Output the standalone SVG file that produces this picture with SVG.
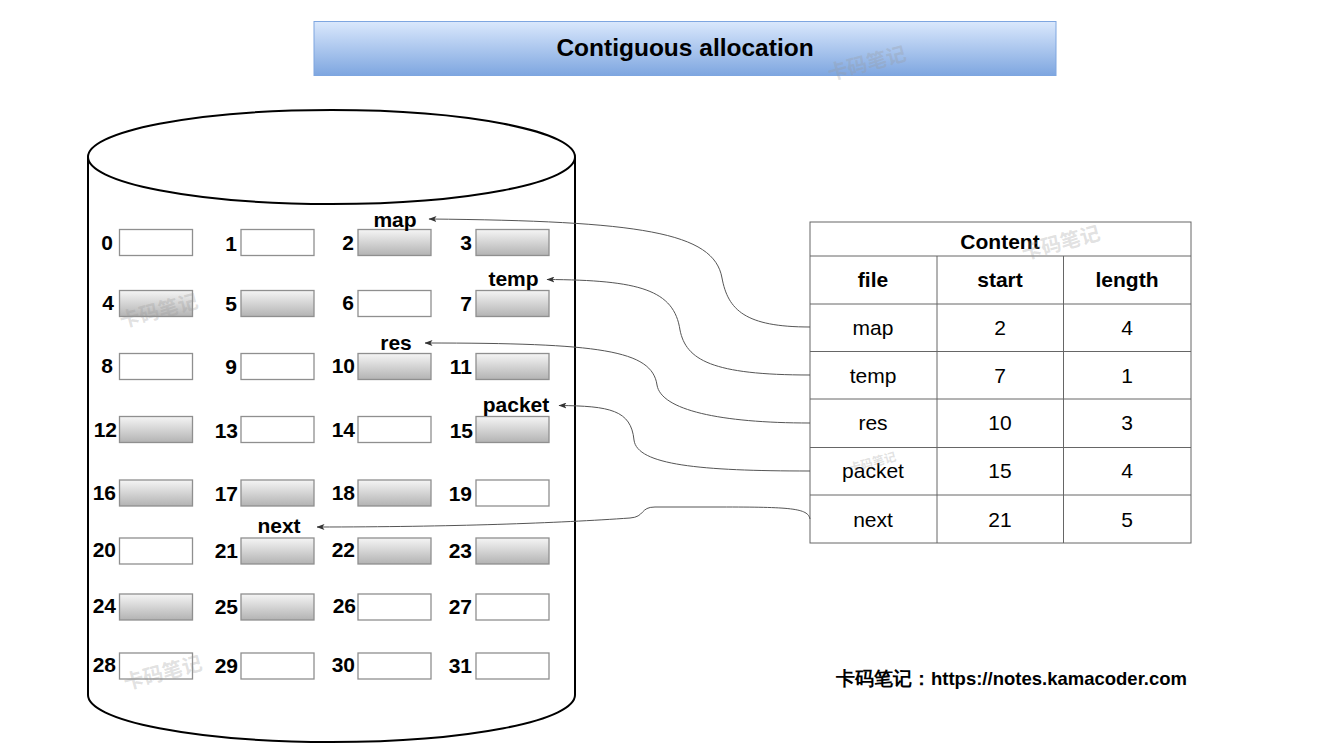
<svg xmlns="http://www.w3.org/2000/svg" width="1318" height="748" viewBox="0 0 1318 748">
<defs>
<linearGradient id="gTitle" x1="0" y1="0" x2="0" y2="1"><stop offset="0" stop-color="#dae8fc"/><stop offset="1" stop-color="#7ea6e0"/></linearGradient>
<linearGradient id="gGray" x1="0" y1="0" x2="0" y2="1"><stop offset="0" stop-color="#f5f5f5"/><stop offset="1" stop-color="#b3b3b3"/></linearGradient>
<marker id="arr" viewBox="0 0 8 6" refX="7.5" refY="3" markerWidth="8" markerHeight="6" markerUnits="userSpaceOnUse" orient="auto"><path d="M0,0 L8,3 L0,6 L2,3 z" fill="#333"/></marker>
</defs>
<style>
text{font-family:"Liberation Sans",Arial,sans-serif;fill:#000}
.num{font-size:21px;font-weight:bold;text-anchor:end}
.lbl{font-size:21px;font-weight:bold;text-anchor:middle}
.th{font-size:21px;font-weight:bold;text-anchor:middle}
.td{font-size:21px;text-anchor:middle}
.blk{stroke:#8f8f8f;stroke-width:1.3}
.w{fill:#fff}
.g{fill:url(#gGray)}
.tl{stroke:#666;stroke-width:1;fill:none}
.con{fill:none;stroke:#555;stroke-width:1;marker-end:url(#arr)}
.wm{font-family:"Noto Sans CJK SC","Liberation Sans",sans-serif;font-size:20px;font-weight:bold;fill:#999;fill-opacity:0.3}
</style>
<rect width="1318" height="748" fill="#fff"/>
<g id="title">
<rect x="314" y="21.5" width="742" height="54" fill="url(#gTitle)" stroke="#7ea6e0" stroke-width="1"/>
<text x="685" y="56" font-size="24.5" font-weight="bold" text-anchor="middle">Contiguous allocation</text>
</g>
<g id="disk">
<path d="M88,157 L88,695 A243.5,47 0 0 0 575,695 L575,157" fill="#fff" stroke="#000" stroke-width="2"/>
<ellipse cx="331.5" cy="157" rx="243.5" ry="47" fill="#fff" stroke="#000" stroke-width="2"/>
</g>
<g id="blocks">
<rect class="blk w" x="119.5" y="229.5" width="73" height="26"/>
<rect class="blk w" x="241" y="229.5" width="73" height="26"/>
<rect class="blk g" x="358" y="229.5" width="73" height="26"/>
<rect class="blk g" x="476" y="229.5" width="73" height="26"/>
<rect class="blk g" x="119.5" y="290.5" width="73" height="26"/>
<rect class="blk g" x="241" y="290.5" width="73" height="26"/>
<rect class="blk w" x="358" y="290.5" width="73" height="26"/>
<rect class="blk g" x="476" y="290.5" width="73" height="26"/>
<rect class="blk w" x="119.5" y="353.5" width="73" height="26"/>
<rect class="blk w" x="241" y="353.5" width="73" height="26"/>
<rect class="blk g" x="358" y="353.5" width="73" height="26"/>
<rect class="blk g" x="476" y="353.5" width="73" height="26"/>
<rect class="blk g" x="119.5" y="416.5" width="73" height="26"/>
<rect class="blk w" x="241" y="416.5" width="73" height="26"/>
<rect class="blk w" x="358" y="416.5" width="73" height="26"/>
<rect class="blk g" x="476" y="416.5" width="73" height="26"/>
<rect class="blk g" x="119.5" y="480" width="73" height="26"/>
<rect class="blk g" x="241" y="480" width="73" height="26"/>
<rect class="blk g" x="358" y="480" width="73" height="26"/>
<rect class="blk w" x="476" y="480" width="73" height="26"/>
<rect class="blk w" x="119.5" y="538" width="73" height="26"/>
<rect class="blk g" x="241" y="538" width="73" height="26"/>
<rect class="blk g" x="358" y="538" width="73" height="26"/>
<rect class="blk g" x="476" y="538" width="73" height="26"/>
<rect class="blk g" x="119.5" y="594" width="73" height="26"/>
<rect class="blk g" x="241" y="594" width="73" height="26"/>
<rect class="blk w" x="358" y="594" width="73" height="26"/>
<rect class="blk w" x="476" y="594" width="73" height="26"/>
<rect class="blk w" x="119.5" y="653" width="73" height="26"/>
<rect class="blk w" x="241" y="653" width="73" height="26"/>
<rect class="blk w" x="358" y="653" width="73" height="26"/>
<rect class="blk w" x="476" y="653" width="73" height="26"/>
</g>
<g id="numbers">
<text class="num" x="113" y="250">0</text><text class="num" x="237" y="251">1</text><text class="num" x="354" y="250">2</text><text class="num" x="472" y="250">3</text>
<text class="num" x="114" y="310">4</text><text class="num" x="237" y="311">5</text><text class="num" x="354" y="310">6</text><text class="num" x="472" y="311">7</text>
<text class="num" x="113" y="373">8</text><text class="num" x="237" y="374">9</text><text class="num" x="355" y="373">10</text><text class="num" x="472" y="374">11</text>
<text class="num" x="117" y="437">12</text><text class="num" x="238" y="438">13</text><text class="num" x="355" y="437">14</text><text class="num" x="473" y="438">15</text>
<text class="num" x="116" y="500">16</text><text class="num" x="238" y="501">17</text><text class="num" x="355" y="500">18</text><text class="num" x="472" y="501">19</text>
<text class="num" x="116" y="557">20</text><text class="num" x="238" y="558">21</text><text class="num" x="355" y="557">22</text><text class="num" x="472" y="558">23</text>
<text class="num" x="116" y="613">24</text><text class="num" x="238" y="614">25</text><text class="num" x="356" y="613">26</text><text class="num" x="472" y="614">27</text>
<text class="num" x="116" y="672">28</text><text class="num" x="238" y="673">29</text><text class="num" x="355" y="672">30</text><text class="num" x="472" y="673">31</text>
</g>
<g id="labels">
<text class="lbl" x="395" y="226.5">map</text>
<text class="lbl" x="513.5" y="286">temp</text>
<text class="lbl" x="396" y="350">res</text>
<text class="lbl" x="516" y="412">packet</text>
<text class="lbl" x="279" y="533">next</text>
</g>
<g id="table">
<rect class="tl" x="810" y="222" width="381" height="321"/>
<line class="tl" x1="810" y1="256" x2="1191" y2="256"/>
<line class="tl" x1="810" y1="304" x2="1191" y2="304"/>
<line class="tl" x1="810" y1="351.5" x2="1191" y2="351.5"/>
<line class="tl" x1="810" y1="399" x2="1191" y2="399"/>
<line class="tl" x1="810" y1="447.5" x2="1191" y2="447.5"/>
<line class="tl" x1="810" y1="495" x2="1191" y2="495"/>
<line class="tl" x1="937" y1="256" x2="937" y2="543"/>
<line class="tl" x1="1063.5" y1="256" x2="1063.5" y2="543"/>
<text class="th" x="1000" y="249">Content</text>
<text class="th" x="873" y="286.5">file</text><text class="th" x="1000" y="286.5">start</text><text class="th" x="1127" y="286.5">length</text>
<text class="td" x="873" y="335">map</text><text class="td" x="1000" y="335">2</text><text class="td" x="1127" y="335">4</text>
<text class="td" x="873" y="382.5">temp</text><text class="td" x="1000" y="382.5">7</text><text class="td" x="1127" y="382.5">1</text>
<text class="td" x="873" y="430">res</text><text class="td" x="1000" y="430">10</text><text class="td" x="1127" y="430">3</text>
<text class="td" x="873" y="478">packet</text><text class="td" x="1000" y="478">15</text><text class="td" x="1127" y="478">4</text>
<text class="td" x="873" y="526.5">next</text><text class="td" x="1000" y="526.5">21</text><text class="td" x="1127" y="526.5">5</text>
</g>
<g id="connectors">
<path class="con" d="M810,327 C745,327 728,310 722,278 C714,232 640,221 429,219"/>
<path class="con" d="M810,375 C712,375 686,360 680,330 C674,290 640,280 547,279.5"/>
<path class="con" d="M810,423 C720,423 661,410 657,385 C652,350 600,343 425,343"/>
<path class="con" d="M810,471 C700,471 637,465 634,440 C631,410 610,406 559,405.5"/>
<path class="con" d="M810,519 C808,508 790,507 720,507 L655,507 C640,507 645,517 630,518 C560,523 450,527 317,527"/>
</g>
<g id="footer">
<text x="836" y="685" font-size="18.5" font-weight="bold" font-family="'Liberation Sans','Noto Sans CJK SC',sans-serif">卡码笔记：https://notes.kamacoder.com</text>
</g>
<g id="watermarks">
<text class="wm" x="826" y="70" transform="rotate(-15 868 60)">卡码笔记</text>
<text class="wm" x="118" y="318" transform="rotate(-15 158 308)">卡码笔记</text>
<text class="wm" x="1020" y="250" transform="rotate(-15 1060 240)">卡码笔记</text>
<text class="wm" x="122" y="680" transform="rotate(-15 162 670)">卡码笔记</text>
<text class="wm" x="848" y="466" font-size="12" transform="rotate(-15 875 460)" style="font-size:12px">卡码笔记</text>
</g>
</svg>
